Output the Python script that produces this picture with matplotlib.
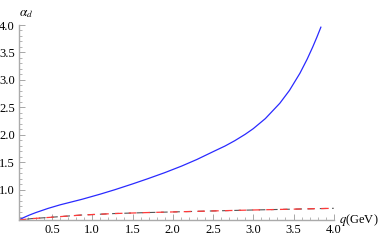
import numpy as np
import matplotlib
matplotlib.use("Agg")
import matplotlib.pyplot as plt
from matplotlib.ticker import MultipleLocator, FixedLocator

# values
q_blue = [0.09, 0.15, 0.22, 0.3, 0.45, 0.6, 0.87, 1.1, 1.28, 1.5, 1.69, 1.9, 2.11, 2.3,
          2.52, 2.65, 2.77, 2.9, 3.0, 3.15, 3.33, 3.45, 3.58, 3.67, 3.74, 3.79, 3.84]
a_blue = [0.455, 0.5, 0.545, 0.59, 0.665, 0.73, 0.83, 0.925, 1.005, 1.11, 1.205, 1.315,
          1.435, 1.555, 1.71, 1.80, 1.896, 2.013, 2.115, 2.298, 2.577, 2.811, 3.123,
          3.38, 3.604, 3.777, 3.96]

q_dash = [0.09, 0.25, 0.45, 0.87, 1.28, 1.69, 2.11, 2.52, 2.98, 3.5, 4.0]
a_dash = [0.455, 0.48, 0.50, 0.545, 0.572, 0.59, 0.605, 0.62, 0.636, 0.652, 0.667]

xticks = [0.5, 1.0, 1.5, 2.0, 2.5, 3.0, 3.5, 4.0]
yticks = [1.0, 1.5, 2.0, 2.5, 3.0, 3.5, 4.0]

plt.rcParams['font.family'] = ['Liberation Serif', 'DejaVu Serif']
plt.rcParams['mathtext.fontset'] = 'stix'

fig = plt.figure(figsize=(3.82, 2.41), dpi=100)
ax = fig.add_axes([19/382, 21/241, 314.75/382, 195/241])

ax.plot(q_blue, a_blue, color="#2a2aff", lw=0.9)
ax.plot(q_dash, a_dash, color="#555555", lw=0.8, ls=(4, (6, 5)))
ax.plot(q_dash, a_dash, color="#ff3a3a", lw=0.9, ls=(0, (6, 5)))

ax.set_xlim(0.09, 4.0)
ax.set_ylim(0.4545, 4.0)

for s in ["top", "right"]:
    ax.spines[s].set_visible(False)
for s in ["left", "bottom"]:
    ax.spines[s].set_color("#aaaaaa")
    ax.spines[s].set_linewidth(1.0)

ax.xaxis.set_major_locator(FixedLocator(xticks))
ax.yaxis.set_major_locator(FixedLocator(yticks))
ax.xaxis.set_minor_locator(MultipleLocator(0.1))
ax.yaxis.set_minor_locator(MultipleLocator(0.1))
ax.set_xticklabels([f"{v:.1f}" for v in xticks])
ax.set_yticklabels([f"{v:.1f}" for v in yticks])
ax.tick_params(which="major", direction="in", length=4, width=0.6, color="#999999",
               labelsize=9, pad=3)
ax.tick_params(which="minor", direction="in", length=2, width=0.5, color="#999999")

ax.text(4.06, 0.4545, r"$q$(GeV)", fontsize=9, va="center", ha="left",
        clip_on=False)
ax.text(0.09, 4.1, r"$\alpha_d$", fontsize=9.5, va="bottom", ha="left",
        clip_on=False)

fig.savefig("out.png", dpi=100)
